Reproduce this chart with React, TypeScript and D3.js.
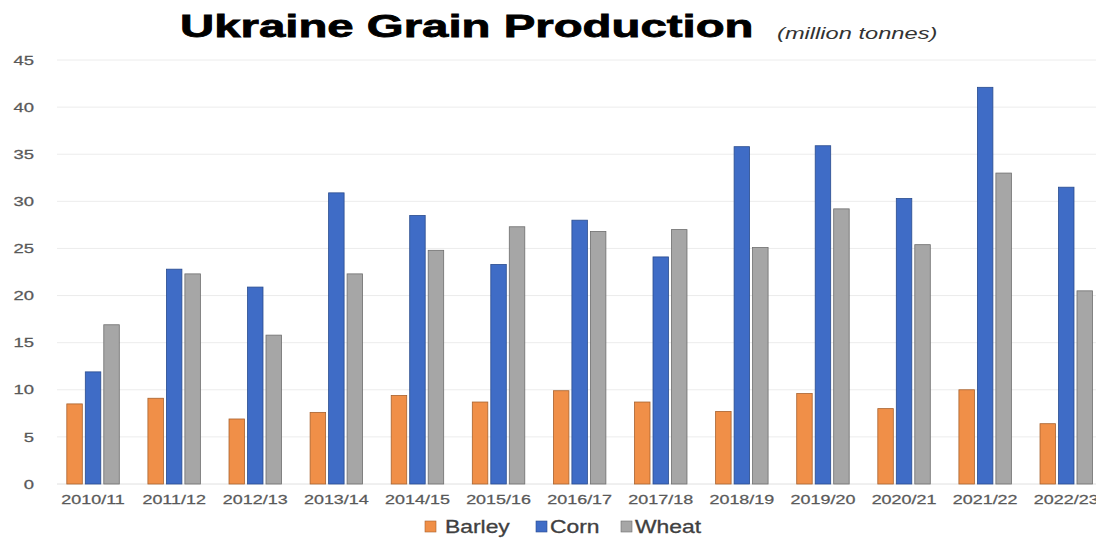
import React from "react";
import * as d3 from "d3";

// Marketing years on the x axis
const seasons = [
  "2010/11", "2011/12", "2012/13", "2013/14", "2014/15", "2015/16", "2016/17",
  "2017/18", "2018/19", "2019/20", "2020/21", "2021/22", "2022/23",
];

// Production, million tonnes
const barley = [8.5, 9.1, 6.9, 7.6, 9.4, 8.7, 9.9, 8.7, 7.7, 9.6, 8.0, 10.0, 6.4];
const corn = [11.9, 22.8, 20.9, 30.9, 28.5, 23.3, 28.0, 24.1, 35.8, 35.9, 30.3, 42.1, 31.5];
const wheat = [16.9, 22.3, 15.8, 22.3, 24.8, 27.3, 26.8, 27.0, 25.1, 29.2, 25.4, 33.0, 20.5];

const seriesNames = ["Barley", "Corn", "Wheat"];
const yTicks = [0, 5, 10, 15, 20, 25, 30, 35, 40, 45];

const W = 1096;
const H = 538;

const fills: Record<string, string> = { Barley: "#F08F48", Corn: "#3F6CC6", Wheat: "#A6A6A6" };
const strokes: Record<string, string> = { Barley: "#A8622E", Corn: "#2A4C8E", Wheat: "#6E6E6E" };

const FONT = "'Liberation Sans', Arial, sans-serif";

function WideText(props: {
  x: number; y: number; sx: number; size: number; anchor?: string;
  weight?: string | number; italic?: boolean; fill?: string; outline?: number; children: React.ReactNode;
}) {
  const { x, y, sx, size, anchor = "start", weight = "normal", italic, fill = "#595959", outline = 0, children } = props;
  return (
    <text
      transform={`translate(${x},${y}) scale(${sx},1)`}
      fontFamily={FONT}
      fontSize={size}
      fontWeight={weight}
      fontStyle={italic ? "italic" : "normal"}
      textAnchor={anchor}
      fill={fill}
      stroke={outline ? fill : "none"}
      strokeWidth={outline}
    >
      {children}
    </text>
  );
}

export default function App() {
  const x0 = d3
    .scaleBand<string>()
    .domain(seasons)
    .range([52.5, 52.5 + 13 * 81.1])
    .paddingInner(0.353)
    .paddingOuter(0.1765);

  const x1 = d3
    .scaleBand<string>()
    .domain(seriesNames)
    .range([0, x0.bandwidth()])
    .paddingInner(0.162);

  const y = d3.scaleLinear().domain([0, 45]).range([484, 60]);

  const rows = seasons.map((s, i) => ({
    season: s,
    values: { Barley: barley[i], Corn: corn[i], Wheat: wheat[i] } as Record<string, number>,
  }));

  const legendItems = [
    { name: "Barley", sw: 425, tx: 445 },
    { name: "Corn", sw: 536, tx: 550 },
    { name: "Wheat", sw: 621, tx: 635 },
  ];

  return (
    <svg
      width={W}
      height={H}
      style={{ position: "absolute", left: 0, top: 0, background: "#fff" }}
    >
      <rect width={W} height={H} fill="#fff" />

      {/* horizontal gridlines */}
      {yTicks.map((t) => (
        <line key={t} x1={57} x2={W} y1={y(t)} y2={y(t)} stroke={t === 0 ? "#e0e0e0" : "#ececec"} strokeWidth={1} />
      ))}

      {/* y tick labels */}
      {yTicks.map((t) => (
        <WideText key={t} x={34} y={y(t) + 4.7} sx={1.42} size={13} anchor="end" outline={0.25}>
          {t}
        </WideText>
      ))}

      {/* grouped bars */}
      {rows.map((r) => (
        <g key={r.season} transform={`translate(${x0(r.season)},0)`}>
          {seriesNames.map((n) => (
            <rect
              key={n}
              x={x1(n)}
              y={y(r.values[n])}
              width={x1.bandwidth()}
              height={y(0) - y(r.values[n])}
              fill={fills[n]}
              stroke={strokes[n]}
              strokeWidth={0.8}
            />
          ))}
        </g>
      ))}

      {/* x category labels */}
      {seasons.map((s) => (
        <WideText key={s} x={(x0(s) as number) + x0.bandwidth() / 2} y={504} sx={1.38} size={13} anchor="middle" outline={0.25}>
          {s}
        </WideText>
      ))}

      {/* title */}
      <WideText x={180} y={37} sx={1.48} size={32} weight="bold" fill="#000" outline={0.8}>
        Ukraine Grain Production
      </WideText>
      <WideText x={777} y={39} sx={1.48} size={16} italic fill="#333">
        (million tonnes)
      </WideText>

      {/* legend */}
      {legendItems.map((it) => (
        <g key={it.name}>
          <rect x={it.sw} y={521} width={11} height={11} fill={fills[it.name]} stroke={strokes[it.name]} strokeWidth={0.6} />
          <WideText x={it.tx} y={533} sx={1.27} size={18} fill="#404040" outline={0.3}>
            {it.name}
          </WideText>
        </g>
      ))}
    </svg>
  );
}
